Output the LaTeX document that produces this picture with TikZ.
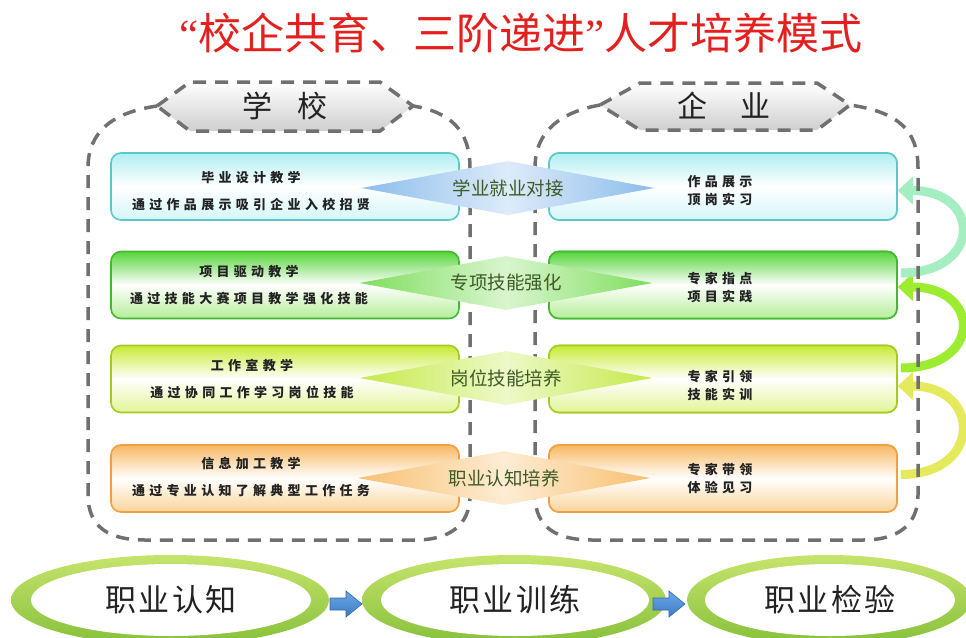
\documentclass[tikz,border=0pt]{standalone}
\usepackage{fontspec}
\setmainfont{Noto Sans CJK SC}
\newfontfamily\cjkls[LetterSpace=33]{Noto Sans CJK SC}
\newfontfamily\cjkel[LetterSpace=8]{Noto Sans CJK SC}
\newfontfamily\qfont{Liberation Serif}
\usetikzlibrary{arrows.meta,shapes.geometric}

\definecolor{titlered}{HTML}{E4201E}
\definecolor{dashgray}{HTML}{707070}
\definecolor{txtdark}{HTML}{222222}
\definecolor{diamtext}{HTML}{3E5A26}
% row colours
\definecolor{cyanB}{HTML}{5CC8C8}
\definecolor{cyanT}{HTML}{B0EEF2}
\definecolor{cyanL}{HTML}{D4F6F8}
\definecolor{grnB}{HTML}{44B832}
\definecolor{grnT}{HTML}{56D43A}
\definecolor{grnL}{HTML}{B4EE98}
\definecolor{ygB}{HTML}{A2CC22}
\definecolor{ygT}{HTML}{C8EA34}
\definecolor{ygL}{HTML}{E2F496}
\definecolor{orB}{HTML}{F0A040}
\definecolor{orT}{HTML}{F8B862}
\definecolor{orL}{HTML}{FAD49A}
\definecolor{dA}{HTML}{8CBCEC}
\definecolor{dB}{HTML}{7EDE5C}
\definecolor{dC}{HTML}{C4EA48}
\definecolor{dD}{HTML}{F8C070}
\definecolor{arA}{HTML}{E4EA5C}
\definecolor{arB}{HTML}{9CEC30}
\definecolor{arC}{HTML}{A4EEC2}
\definecolor{ringT}{HTML}{C6E46C}
\definecolor{ringB}{HTML}{86C03A}
\definecolor{blueT}{HTML}{6AA8E8}
\definecolor{blueB}{HTML}{3D7CC4}
\definecolor{blueD}{HTML}{3568A8}

\begin{document}
\begin{tikzpicture}[x=1pt,y=-1pt,
  dashbox/.style={draw=dashgray,line width=3.5pt,dash pattern=on 13pt off 9pt},
  hexshade/.style={top color=white,bottom color=gray!38},
  hextext/.style={font=\fontsize{30}{32}\selectfont,text=txtdark},
  box/.style={rectangle,rounded corners=10pt,line width=1.6pt,minimum width=348pt,minimum height=67pt,inner sep=0pt},
  rowA/.style={draw=cyanB,top color=cyanT,bottom color=cyanL,middle color=white},
  rowB/.style={draw=grnB,top color=grnT,bottom color=grnL,middle color=white},
  rowC/.style={draw=ygB,top color=ygT,bottom color=ygL,middle color=white},
  rowD/.style={draw=orB,top color=orT,bottom color=orL,middle color=white},
  ltext/.style={font=\cjkls\bfseries\fontsize{13}{27}\selectfont,align=center,text=txtdark,inner sep=0pt},
  rtext/.style={font=\cjkls\bfseries\fontsize{13}{18}\selectfont,align=center,text=txtdark,inner sep=0pt},
  diam/.style={diamond,aspect=5.4,minimum width=293pt,minimum height=54pt,inner sep=0pt,
    font=\fontsize{18.5}{20}\selectfont,text=diamtext},
  dshade/.style={left color=#1,right color=#1,middle color=#1!30!white},
  carrow/.style={draw=#1,line width=9pt,-{Triangle[length=15pt,width=27pt]}},
  ring/.style={ellipse,inner sep=0pt,top color=ringT,bottom color=ringB},
  ringin/.style={ellipse,inner sep=0pt,fill=white,font=\cjkel\fontsize{31}{33}\selectfont,text=txtdark},
  barrow/.style={top color=blueT,bottom color=blueB,draw=blueD,line width=0.6pt}
]
\useasboundingbox (0,0) rectangle (966,637);

% title
\node[font=\fontsize{43}{46}\selectfont,text=titlered] (title) at (521,33) {{\qfont “}校企共育、三阶递进{\qfont ”}人才培养模式};

% right boxes first, so the curved arrows can refer to them
\node[box,rowA] (r1) at (723,186.5) {};
\node[box,rowB] (r2) at (723,285) {};
\node[box,rowC] (r3) at (723,379) {};
\node[box,rowD] (r4) at (723,478.5) {};
\draw[carrow=arA] ([xshift=3pt,yshift=4pt]r4.east) .. controls +(82,0) and +(84,0) .. ([yshift=-7pt]r3.east);
\draw[carrow=arB] ([xshift=3pt,yshift=11pt]r3.east) .. controls +(82,0) and +(84,0) .. ([yshift=-2pt]r2.east);
\draw[carrow=arC] ([xshift=3pt,yshift=12pt]r2.east) .. controls +(82,0) and +(84,0) .. ([yshift=-4pt]r1.east);

% dashed frames
\draw[dashbox] (157,106) .. controls (115,112) and (88,130) .. (88,168) -- (88,495)
  .. controls (88,528) and (110,540) .. (145,540) -- (415,540)
  .. controls (450,540) and (470,525) .. (470,495) -- (470,168)
  .. controls (470,130) and (450,112) .. (413,106);
\draw[dashbox] (600,105) .. controls (562,112) and (535,130) .. (535,168) -- (535,495)
  .. controls (535,528) and (557,540) .. (592,540) -- (863,540)
  .. controls (898,540) and (918,525) .. (918,495) -- (918,168)
  .. controls (918,130) and (898,112) .. (850,105);

% boxes (redrawn on top of the frame)
\node[box,rowA] (l1) at (285,186.5) {};
\node[box,rowB] (l2) at (285,285) {};
\node[box,rowC] (l3) at (285,379) {};
\node[box,rowD] (l4) at (285,478.5) {};
\node[box,rowA] at (r1) {};
\node[box,rowB] at (r2) {};
\node[box,rowC] at (r3) {};
\node[box,rowD] at (r4) {};

% diamonds
\node[diam,dshade=dA] (d1) at (508,188) {学业就业对接};
\node[diam,dshade=dB] (d2) at (506,283) {专项技能强化};
\node[diam,dshade=dC] (d3) at (506,378) {岗位技能培养};
\node[diam,dshade=dD] (d4) at (504,478) {职业认知培养};

% box texts
\node[ltext] (lt1) at (251,191.5) {毕业设计教学\\通过作品展示吸引企业入校招贤};
\node[ltext] (lt2) at (249,285) {项目驱动教学\\通过技能大赛项目教学强化技能};
\node[ltext] (lt3) at (252,379) {工作室教学\\通过协同工作学习岗位技能};
\node[ltext] (lt4) at (251,477.5) {信息加工教学\\通过专业认知了解典型工作任务};
\node[rtext] (rt1) at (720,191) {作品展示\\顶岗实习};
\node[rtext] (rt2) at (720,288) {专家指点\\项目实践};
\node[rtext] (rt3) at (720,385) {专家引领\\技能实训};
\node[rtext] (rt4) at (720,478) {专家带领\\体验见习};

% hexagon headers
\draw[dashbox,hexshade] (157,106) -- (190,82) -- (380,82) -- (413,106) -- (380,131) -- (190,131) -- cycle;
\node[hextext] (hx1) at (285,106) {学\hspace{26pt}校};
\draw[dashbox,hexshade] (600,105) -- (640,83) -- (817,83) -- (850,105) -- (817,130) -- (640,130) -- cycle;
\node[hextext] (hx2) at (724,106) {企\hspace{34pt}业};

% bottom ellipses
\node[ring,minimum width=318pt,minimum height=90pt] (e1) at (170,600) {};
\node[ringin,minimum width=280pt,minimum height=72pt] (e1t) at (171,600) {职业认知};
\node[ring,minimum width=304pt,minimum height=90pt] (e2) at (514,600) {};
\node[ringin,minimum width=268pt,minimum height=72pt] (e2t) at (515,600) {职业训练};
\node[ring,minimum width=284pt,minimum height=90pt] (e3) at (829,600) {};
\node[ringin,minimum width=250pt,minimum height=72pt] (e3t) at (830,600) {职业检验};

% blue block arrows
\coordinate (b1) at (330,604);
\coordinate (b2) at (653,604);
\draw[barrow] (b1) ++(0,-6) -- ++(16,0) -- ++(0,-7) -- ++(16,13) -- ++(-16,13) -- ++(0,-7) -- ++(-16,0) -- cycle;
\draw[barrow] (b2) ++(0,-6) -- ++(16,0) -- ++(0,-7) -- ++(16,13) -- ++(-16,13) -- ++(0,-7) -- ++(-16,0) -- cycle;
\end{tikzpicture}
\end{document}
